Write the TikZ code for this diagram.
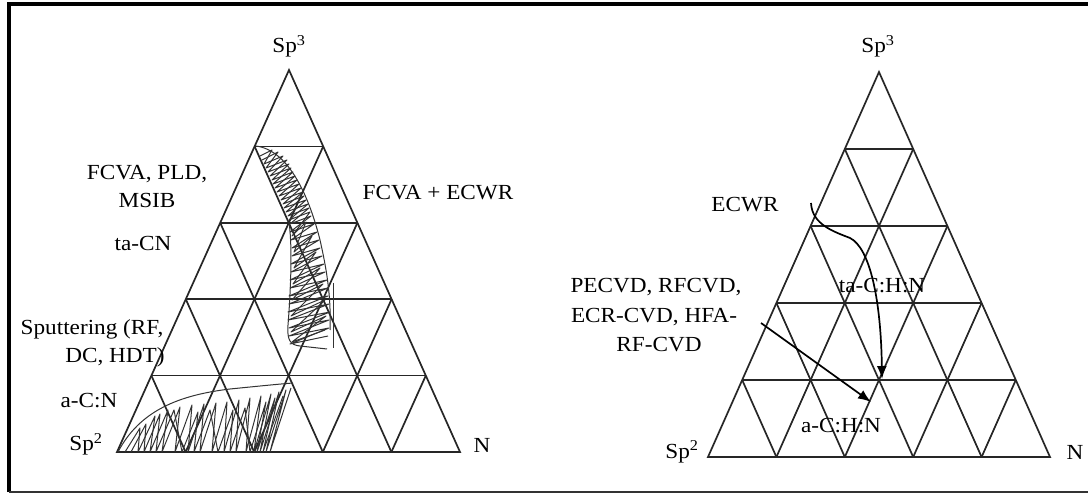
\documentclass[tikz,border=0pt]{standalone}
\usepackage{fontspec}
\setmainfont{Liberation Serif}[FakeStretch=1.08]
\usetikzlibrary{calc,arrows.meta}
\tikzset{
	% lines of the ternary grids
	grid line/.style={line width=1.7pt,black!85},
	% hand drawn shading of the regions
	scribble/.style={line width=1pt,black!80,line join=round},
	% arrows in the right plot
	flow/.style={line width=1.7pt,-{Latex[length=13pt,width=10pt]}},
	lbl/.style={font=\fontsize{21.5}{26}\selectfont,inner sep=0pt,anchor=base},
}

\begin{document}
\begin{tikzpicture}[x=1pt,y=-1pt]
		\useasboundingbox (0,0) rectangle (1088,494);
		% frame
		\draw[line width=3.5pt] (9,492) -- (9,4) -- (1088,4);
		\draw[line width=1.5pt,black!80] (9,492) -- (1088,492);
		% corners of the two triangles
		\coordinate (L-top) at (289,70);
		\coordinate (L-sw) at (117,452);
		\coordinate (L-se) at (460,452);
		\coordinate (R-top) at (879,72);
		\coordinate (R-sw) at (708,457);
		\coordinate (R-se) at (1050,457);
		\foreach \tri in {L,R} {
			\draw[grid line] (\tri-top) -- (\tri-sw) -- (\tri-se) -- cycle;
			\foreach \i in {1,...,4} {
				\pgfmathsetmacro\f{\i/5}
				\draw[grid line] ($(\tri-top)!\f!(\tri-sw)$) -- ($(\tri-top)!\f!(\tri-se)$);
				\draw[grid line] ($(\tri-sw)!\f!(\tri-se)$) -- ($(\tri-sw)!\f!(\tri-top)$);
				\draw[grid line] ($(\tri-se)!\f!(\tri-sw)$) -- ($(\tri-se)!\f!(\tri-top)$);
			}
		}
		% shaded regions, left plot
		\draw[scribble] (255.7,146) .. controls (290,150) and (310,200) .. (320,240) .. controls (328,275) and (331,300) .. (330,330);
		\draw[scribble] (289,222) .. controls (293,250) and (290,300) .. (288,325) .. controls (287,340) and (290,345) .. (300,346) -- (327,349);
		\draw[scribble] (333,283) -- (333,348);
		\draw[scribble] plot coordinates {(262,160) (278,152) (266,168) (287,160) (270,176) (291,168) (273,184) (295,176)
			(277,192) (299,184) (281,200) (303,192) (284,208) (306,200) (288,216) (309,208) (290,224) (311,216)
			(290,232) (314,224) (291,240) (317,232) (292,248) (319,240) (292,256) (320,248) (291,264) (322,256)
			(291,272) (324,264) (290,280) (325,272) (290,288) (327,280) (289,296) (328,288) (289,304) (328,296)
			(288,312) (329,304) (288,320) (330,312) (289,328) (329,320) (289,336) (329,328) (290,344) (328,336)};
		\draw[scribble] plot coordinates {(260,156) (272,150) (264,164) (283,156) (268,172) (289,164) (272,180) (293,172)
			(275,188) (297,180) (279,196) (301,188) (283,204) (304,196) (286,212) (308,204) (289,220) (310,212)
			(292,236) (306,222) (294,252) (312,236) (294,268) (316,252) (293,284) (320,268) (292,300) (323,284)
			(291,316) (325,300) (291,332) (326,316) (292,342) (325,330)};
		\draw[scribble] (118,452) .. controls (140,410) and (180,395) .. (230,389) .. controls (260,386) and (280,384) .. (293,383);
		\draw[scribble] plot coordinates {(125,452) (140,428) (138,452) (155,416) (150,452) (168,410) (162,452) (180,407)
			(175,452) (192,405) (188,452) (204,404) (200,452) (216,403) (212,452) (227,402) (224,452) (239,400)
			(236,452) (250,398) (246,452) (261,396) (254,452) (271,394) (260,452) (279,392) (266,452) (286,390)
			(270,452) (291,388)};
		\draw[scribble] plot coordinates {(131,452) (146,424) (144,452) (160,414) (156,452) (174,410)
			(182,452) (198,412) (194,452) (210,410) (218,452) (233,410) (230,452) (245,408)
			(250,452) (266,402) (257,452) (275,398) (263,452) (283,396)};
		% labels, left plot
		\node[lbl] (l-sp3) at (289,53) {Sp\textsuperscript{3}};
		\node[lbl] (l-fcva) at (147,180) {FCVA, PLD,};
		\node[lbl] (l-msib) at (147,208) {MSIB};
		\node[lbl] (l-tacn) at (143,251) {ta-CN};
		\node[lbl] (l-fe) at (438,200) {FCVA + ECWR};
		\node[lbl] (l-sput) at (92,335) {Sputtering (RF,};
		\node[lbl] (l-dc) at (115,363) {DC, HDT)};
		\node[lbl] (l-acn) at (89,408) {a-C:N};
		\node[lbl] (l-sp2) at (86,451) {Sp\textsuperscript{2}};
		\node[lbl] (l-n) at (482,453) {N};
		% labels, right plot
		\node[lbl] (r-sp3) at (878,53) {Sp\textsuperscript{3}};
		\node[lbl] (r-ecwr) at (745,212) {ECWR};
		\node[lbl] (r-pe1) at (656,293) {PECVD, RFCVD,};
		\node[lbl] (r-pe2) at (654,323) {ECR-CVD, HFA-};
		\node[lbl] (r-pe3) at (659,352) {RF-CVD};
		\node[lbl] (r-ta) at (882,293) {ta-C:H:N};
		\node[lbl] (r-a) at (841,433) {a-C:H:N};
		\node[lbl] (r-sp2) at (682,458) {Sp\textsuperscript{2}};
		\node[lbl] (r-n) at (1075,460) {N};
		% arrows
		\coordinate (ecwr-from) at (811,203);
		\coordinate (ecwr-to) at (882,379);
		\coordinate (pe-from) at (761,323);
		\coordinate (pe-to) at (871,402);
		\draw[flow] (ecwr-from) .. controls (812,225) and (835,232) .. (850,238) .. controls (870,248) and (881,300) .. (ecwr-to);
		\draw[flow] (pe-from) -- (pe-to);
		\end{tikzpicture}
\end{document}
